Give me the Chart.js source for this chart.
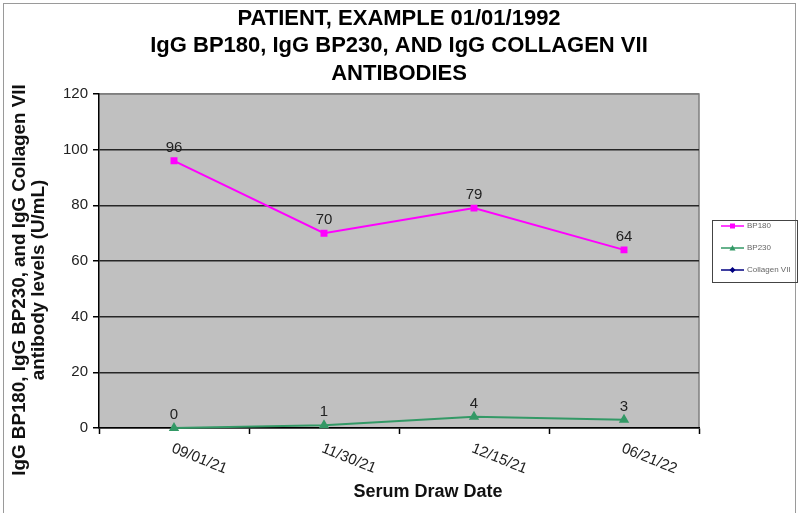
<!DOCTYPE html>
<html>
<head>
<meta charset="utf-8">
<script src="https://cdn.jsdelivr.net/npm/chart.js@4.4.1/dist/chart.umd.min.js"></script>
<style>
  html, body { margin: 0; padding: 0; background: #fff; }
  #wrap { width: 799px; height: 513px; }
</style>
</head>
<body>
<div id="wrap"><canvas id="myChart" width="799" height="513"></canvas></div>
<script>
var drawDates = ["09/01/21", "11/30/21", "12/15/21", "06/21/22"];
var bp180 = [96, 70, 79, 64];
var bp230 = [0, 1, 4, 3];
var collagenVII = [null, null, null, null];
var yTicks = [0, 20, 40, 60, 80, 100, 120];

var FONT = "'Liberation Sans', Arial, Helvetica, sans-serif";

// grey plot panel, outer frame, axis titles, rotated dates, value labels, legend box
var excelLook = {
  id: "excelLook",
  beforeDraw: function (chart) {
    var c = chart.ctx, a = chart.chartArea;
    c.save();
    c.fillStyle = "#ffffff";
    c.fillRect(0, 0, chart.width, chart.height);
    c.strokeStyle = "#9a9a9a";
    c.lineWidth = 1;
    c.strokeRect(3.5, 3.5, chart.width - 7, chart.height + 10);
    c.fillStyle = "#c0c0c0";
    c.fillRect(a.left, a.top, a.right - a.left, a.bottom - a.top);
    c.strokeStyle = "#7f7f7f";
    c.lineWidth = 1.5;
    c.beginPath();
    c.moveTo(a.left, a.top);
    c.lineTo(a.right, a.top);
    c.lineTo(a.right, a.bottom);
    c.stroke();
    c.restore();
  },
  afterDraw: function (chart) {
    var c = chart.ctx;
    var x = chart.scales.x;
    c.save();

    // y axis title, two lines
    c.fillStyle = "#111";
    c.font = "bold 18.8px " + FONT;
    c.textAlign = "center";
    c.textBaseline = "middle";
    c.save();
    c.translate(20, 280);
    c.rotate(-Math.PI / 2);
    c.fillText("IgG BP180, IgG BP230, and IgG Collagen VII", 0, 0);
    c.fillText("antibody levels (U/mL)", 0, 19);
    c.restore();

    // x axis title
    c.font = "bold 18px " + FONT;
    c.fillText("Serum Draw Date", 428, 492);

    // slanted date labels
    c.font = "15px " + FONT;
    c.fillStyle = "#222";
    c.textAlign = "left";
    c.textBaseline = "top";
    drawDates.forEach(function (d, i) {
      c.save();
      c.translate(x.getPixelForTick(i) + 1, 441);
      c.rotate(22 * Math.PI / 180);
      c.fillText(d, 0, 0);
      c.restore();
    });

    // point values
    c.font = "15px " + FONT;
    c.textAlign = "center";
    c.textBaseline = "middle";
    [0, 1].forEach(function (di) {
      var ds = chart.data.datasets[di];
      chart.getDatasetMeta(di).data.forEach(function (pt, i) {
        if (ds.data[i] == null) return;
        c.fillText(String(ds.data[i]), pt.x, pt.y - 13);
      });
    });

    // legend
    c.strokeStyle = "#444";
    c.lineWidth = 1;
    c.strokeRect(712.5, 220.5, 85, 62);
    var rows = [226, 248, 270];
    chart.data.datasets.forEach(function (ds, i) {
      var y = rows[i];
      c.strokeStyle = ds.borderColor;
      c.lineWidth = 1.5;
      c.beginPath();
      c.moveTo(721, y);
      c.lineTo(744, y);
      c.stroke();
      c.fillStyle = ds.borderColor;
      c.beginPath();
      if (ds.pointStyle === "rect") {
        c.rect(730, y - 2.5, 5, 5);
      } else if (ds.pointStyle === "triangle") {
        c.moveTo(732.5, y - 3);
        c.lineTo(735.5, y + 2.5);
        c.lineTo(729.5, y + 2.5);
        c.closePath();
      } else {
        c.moveTo(732.5, y - 3);
        c.lineTo(735.5, y);
        c.lineTo(732.5, y + 3);
        c.lineTo(729.5, y);
        c.closePath();
      }
      c.fill();
      c.fillStyle = "#666";
      c.font = "8px " + FONT;
      c.textAlign = "left";
      c.fillText(ds.label, 747, y);
    });
    c.restore();
  }
};

var ctx = document.getElementById("myChart");
var myChart = new Chart(ctx, {
  type: "line",
  data: {
    labels: drawDates,
    datasets: [
      {
        label: "BP180",
        data: bp180,
        borderColor: "#ff00ff",
        backgroundColor: "#ff00ff",
        borderWidth: 2,
        pointStyle: "rect",
        pointRadius: 3.5,
        lineTension: 0,
        fill: false,
        clip: false,
      },
      {
        label: "BP230",
        data: bp230,
        borderColor: "#339966",
        backgroundColor: "#339966",
        borderWidth: 2,
        pointStyle: "triangle",
        pointRadius: 4,
        lineTension: 0,
        fill: false,
        clip: false,
      },
      {
        label: "Collagen VII",
        data: collagenVII,
        borderColor: "#000080",
        backgroundColor: "#000080",
        borderWidth: 2,
        pointStyle: "rectRot",
        pointRadius: 4,
        lineTension: 0,
        fill: false,
        clip: false,
      },
    ],
  },
  options: {
    responsive: false,
    animation: false,
    devicePixelRatio: 1,
    layout: { padding: { left: 63, right: 100, top: 0, bottom: 79 } },
    plugins: {
      legend: { display: false },
      tooltip: { enabled: false },
      title: {
        display: true,
        fullSize: false,
        text: [
          "PATIENT, EXAMPLE 01/01/1992",
          "IgG BP180, IgG BP230, AND IgG COLLAGEN VII",
          "ANTIBODIES",
        ],
        color: "#000",
        font: { family: FONT, size: 22, weight: "bold", lineHeight: 1.25 },
        padding: { top: 5, bottom: 6.5 },
      },
    },
    scales: {
      x: {
        offset: true,
        grid: {
          offset: true,
          drawOnChartArea: false,
          tickLength: 6,
          tickColor: "#000",
          tickWidth: 1.5,
        },
        border: { color: "#000", width: 1.5 },
        ticks: { display: false },
      },
      y: {
        min: 0,
        max: 120,
        afterBuildTicks: function (scale) {
          scale.ticks = yTicks.map(function (v) { return { value: v }; });
        },
        afterFit: function (scale) {
          scale.width = 36;
        },
        grid: {
          color: function (c) {
            return c.tick && c.tick.value === 120 ? "#7f7f7f" : "#262626";
          },
          lineWidth: 1.5,
          tickLength: 6,
          tickColor: "#000",
        },
        border: { color: "#000", width: 1.5 },
        ticks: {
          color: "#222",
          padding: 5,
          font: { family: FONT, size: 15 },
        },
      },
    },
  },
  plugins: [excelLook],
});
</script>
</body>
</html>
